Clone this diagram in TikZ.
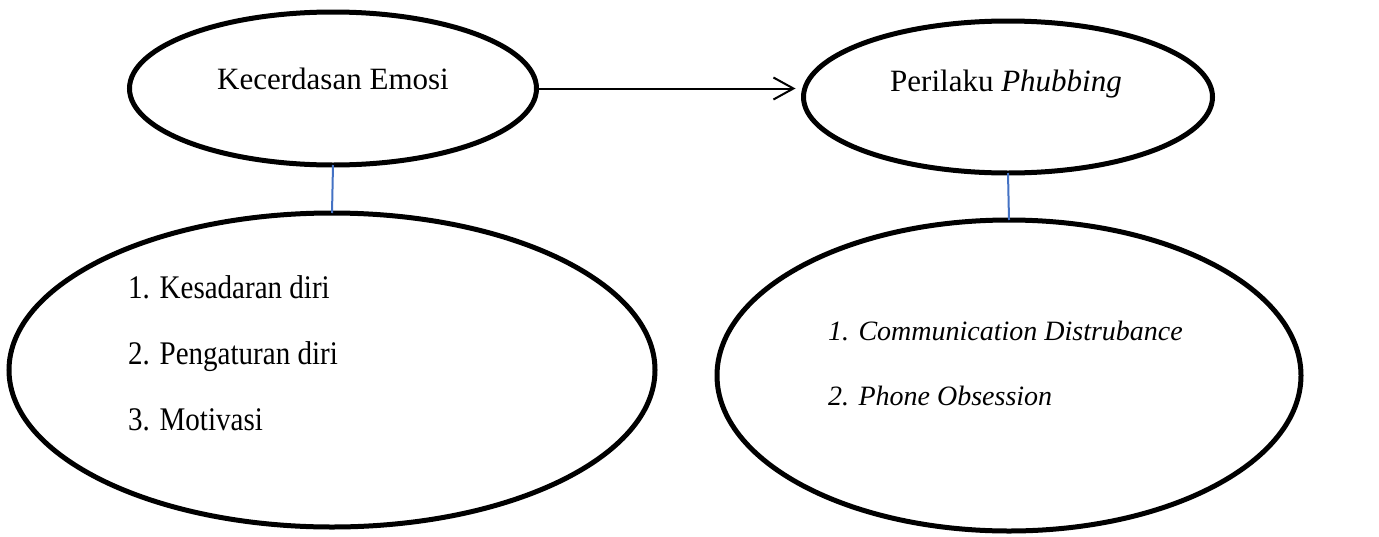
\documentclass[tikz,border=0pt]{standalone}
\usepackage{fontspec}
\setmainfont{Liberation Serif}
\usetikzlibrary{shapes.geometric,arrows.meta}
\definecolor{wordblue}{RGB}{68,114,196}
\tikzset{
  oval/.style={draw=black,line width=5pt,ellipse,inner sep=0pt,outer sep=0pt},
  lbl/.style={inner sep=0pt,font=\fontsize{31}{37}\selectfont},
  item/.style={inner sep=0pt,anchor=base west,font=\fontsize{33}{39}\selectfont},
  itemi/.style={inner sep=0pt,anchor=base west,font=\fontsize{28}{34}\selectfont\itshape},
  link/.style={draw=wordblue,line width=2pt},
  flow/.style={draw=black,line width=2pt,-{Straight Barb[length=20pt,width=22pt,line width=2pt]}}
}
\begin{document}
\begin{tikzpicture}[x=1pt,y=-1pt]
\useasboundingbox (0,0) rectangle (1379,536);
\node[oval,minimum width=407pt,minimum height=153pt] (ke) at (333,88.5) {};
\node[oval,minimum width=409pt,minimum height=152pt] (pp) at (1008,97) {};
\node[oval,minimum width=646pt,minimum height=314pt] (ind1) at (332,370) {};
\node[oval,minimum width=584pt,minimum height=311pt] (ind2) at (1009,375.5) {};
\node[lbl,anchor=base] (tke) at (333,89) {Kecerdasan Emosi};
\node[lbl,anchor=base] (tpp) at (1006,91) {Perilaku \textit{Phubbing}};
\node[item] (a1) at (128,298) {\scalebox{0.88}[1]{1. Kesadaran diri}};
\node[item] (a2) at (128,364) {\scalebox{0.88}[1]{2. Pengaturan diri}};
\node[item] (a3) at (128,430) {\scalebox{0.88}[1]{3. Motivasi}};
\node[itemi] (b1) at (828,340) {1. Communication Distrubance};
\node[itemi] (b2) at (828,405) {2. Phone Obsession};
\draw[flow,shorten >=8pt] (ke.east) -- (ke.east -| pp.west);
\draw[link] (ke.south) -- (ind1.north);
\draw[link] (pp.south) -- (ind2.north);
\end{tikzpicture}
\end{document}
